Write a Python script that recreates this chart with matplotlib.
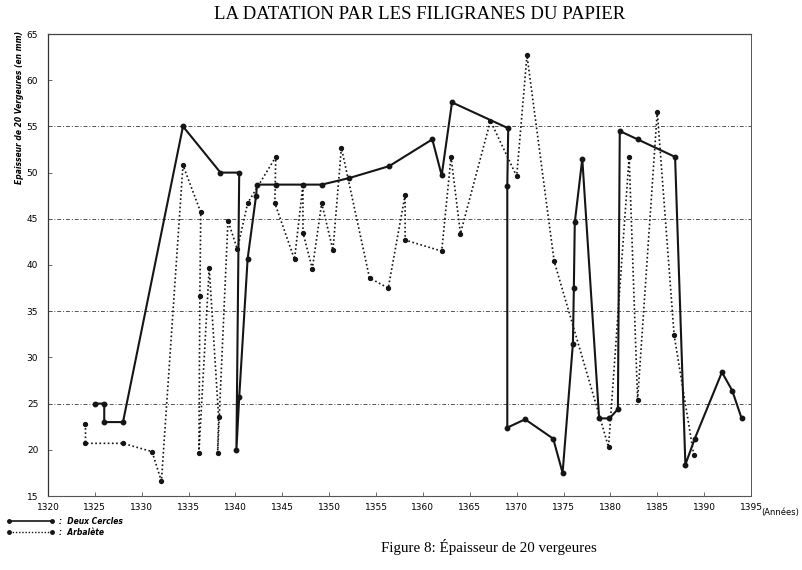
import numpy as np
import matplotlib
matplotlib.use("Agg")
import matplotlib.pyplot as plt
from matplotlib.lines import Line2D

# --- data ---
deux_cercles_years = [1325, 1326, 1326, 1328, 1334.4, 1338.4, 1340.4, 1340.1, 1340.4,
                      1341.3, 1342.2, 1342.3, 1344.3, 1347.2, 1349.2, 1352.1, 1356.4,
                      1361, 1362, 1363.1, 1369.1, 1369, 1369, 1370.9, 1373.9, 1374.9,
                      1376, 1376.1, 1376.2, 1377, 1378.8, 1379.9, 1380.8, 1381, 1382.9,
                      1386.9, 1388, 1389, 1391.9, 1393, 1394]
deux_cercles_vals = [25, 25, 23, 23, 55, 50, 50, 20, 25.7,
                     40.7, 47.5, 48.7, 48.7, 48.7, 48.7, 49.4, 50.7,
                     53.6, 49.7, 57.6, 54.8, 48.6, 22.4, 23.3, 21.2, 17.5,
                     31.5, 37.5, 44.6, 51.5, 23.4, 23.4, 24.4, 54.5, 53.6,
                     51.7, 18.4, 21.2, 28.4, 26.4, 23.4]

arbalete_years = [1324, 1324, 1328, 1331.1, 1332.1, 1334.4, 1336.3, 1336.2, 1336.1,
                  1337.2, 1338.2, 1338.1, 1339.2, 1340.2, 1341.3, 1344.3, 1344.2,
                  1346.3, 1347.2, 1347.2, 1348.2, 1349.2, 1350.4, 1351.3, 1354.3,
                  1356.3, 1358.1, 1358.1, 1362, 1363, 1364, 1367.2, 1370, 1371.1,
                  1374, 1379.8, 1382, 1382.9, 1385, 1386.8, 1388.9]
arbalete_vals = [22.8, 20.7, 20.7, 19.8, 16.6, 50.8, 45.7, 36.6, 19.7,
                 39.7, 23.6, 19.7, 44.8, 41.7, 46.7, 51.7, 46.7,
                 40.6, 48.7, 43.5, 39.6, 46.7, 41.6, 52.7, 38.6,
                 37.5, 47.6, 42.7, 41.5, 51.7, 43.4, 55.6, 49.6, 62.7,
                 40.4, 20.3, 51.7, 25.4, 56.6, 32.4, 19.4]

x_ticks = list(range(1320, 1396, 5))
y_ticks = list(range(15, 66, 5))
grid_levels = [25, 35, 45, 55]

title = "LA DATATION PAR LES FILIGRANES DU PAPIER"
caption = "Figure 8: Épaisseur de 20 vergeures"
ylabel = "Epaisseur de 20 Vergeures (en mm)"
series_labels = [":  Deux Cercles", ":  Arbalète"]

ink = "#151515"

fig = plt.figure(figsize=(8.03, 5.70), dpi=100)
ax = fig.add_axes([48 / 803, 1 - 496 / 570, 703 / 803, 462 / 570])

for g in grid_levels:
    ax.axhline(g, color="#555555", lw=0.7, ls=(0, (4, 2, 1, 2)), zorder=1)

ax.plot(deux_cercles_years, deux_cercles_vals, color=ink, lw=1.5, ls="-",
        marker="o", ms=3.2, zorder=3)
ax.plot(arbalete_years, arbalete_vals, color=ink, lw=1.2, ls=(0, (1, 1.5)),
        marker="o", ms=2.8, zorder=2)

ax.set_xlim(1320, 1395)
ax.set_ylim(15, 65)
ax.set_xticks(x_ticks)
ax.set_yticks(y_ticks)
ax.set_xticklabels([str(t) for t in x_ticks], fontsize=6.5, family="Liberation Sans Narrow")
ax.set_yticklabels([str(t) for t in y_ticks], fontsize=6.5, family="Liberation Sans Narrow")
ax.tick_params(direction="in", length=3, width=0.6, color="#555555")
ax.tick_params(axis="x", pad=5)
ax.tick_params(axis="y", pad=7)

ax.spines["left"].set_linewidth(0.9)
ax.spines["left"].set_color("#333333")
ax.spines["right"].set_linestyle((0, (1, 1)))
ax.spines["right"].set_color("#555555")
ax.spines["right"].set_linewidth(0.7)
ax.spines["top"].set_linestyle((0, (6, 1, 1, 1)))
ax.spines["top"].set_color("#444444")
ax.spines["top"].set_linewidth(0.9)
ax.spines["bottom"].set_linestyle((0, (1, 1)))
ax.spines["bottom"].set_color("#555555")
ax.spines["bottom"].set_linewidth(0.8)

ax.set_ylabel(ylabel, fontsize=5.5, fontstyle="italic", fontweight="bold")
ax.yaxis.set_label_coords(-0.034, 0.84)
ax.text(1.015, -0.027, "(Années)", transform=ax.transAxes, fontsize=6,
        ha="left", va="top")

fig.text(0.523, 0.975, title, ha="center", va="center", fontsize=13.5,
         family="Liberation Serif")
fig.text(0.609, 0.04, caption, ha="center", va="center", fontsize=10.8,
         family="Liberation Serif")

handles = [Line2D([], [], color=ink, lw=1.2, ls="-", marker="o", ms=2.5),
           Line2D([], [], color=ink, lw=1.0, ls=(0, (1, 1.3)), marker="o", ms=2.5)]
fig.legend(handles, series_labels, loc="upper left", bbox_to_anchor=(0.0, 1 - 510 / 570),
           numpoints=2, frameon=False, handlelength=6.2, handletextpad=0.6,
           labelspacing=0.3, prop={"size": 5.5, "style": "italic", "weight": "bold"})

fig.savefig("out.png", dpi=100, facecolor="white")
